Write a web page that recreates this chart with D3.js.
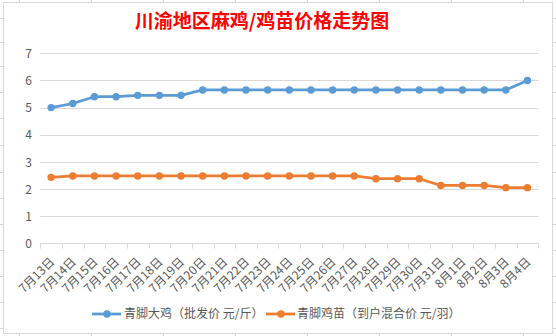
<!DOCTYPE html>
<html><head><meta charset="utf-8">
<script src="https://cdn.jsdelivr.net/npm/d3@7"></script>
<style>
html,body{margin:0;padding:0;background:#fff;}
svg{display:block;}
text{font-family:"Noto Sans CJK SC","Microsoft YaHei",sans-serif;}
</style></head>
<body>
<svg id="chart" width="556" height="336"></svg>
<script>
const title = "川渝地区麻鸡/鸡苗价格走势图";
const categories = ["7月13日","7月14日","7月15日","7月16日","7月17日","7月18日","7月19日","7月20日","7月21日","7月22日","7月23日","7月24日","7月25日","7月26日","7月27日","7月28日","7月29日","7月30日","7月31日","8月1日","8月2日","8月3日","8月4日"];
const seriesNames = ["青脚大鸡（批发价 元/斤）","青脚鸡苗（到户混合价 元/羽）"];
const broilerPrices = [5.0,5.15,5.4,5.4,5.45,5.45,5.45,5.65,5.65,5.65,5.65,5.65,5.65,5.65,5.65,5.65,5.65,5.65,5.65,5.65,5.65,5.65,6.0];
const chickPrices = [2.43,2.48,2.48,2.48,2.48,2.48,2.48,2.48,2.48,2.48,2.48,2.48,2.48,2.48,2.48,2.38,2.38,2.38,2.13,2.13,2.13,2.05,2.05];
const yTicks = [0,1,2,3,4,5,6,7];
const colors = ["#5B9BD5","#ED7D31"];

const svg = d3.select("#chart");

// spreadsheet cell lines peeking outside the chart border
const sheet = svg.append("g").attr("stroke","#D4D4D4").attr("stroke-width",1);
[19,91,163,235,307,379,451,523].forEach(x=>{
  sheet.append("line").attr("x1",x+0.5).attr("x2",x+0.5).attr("y1",0).attr("y2",2);
  sheet.append("line").attr("x1",x+0.5).attr("x2",x+0.5).attr("y1",334).attr("y2",336);
});
[18,42,66,92,118,145,172,198,224,250,276,302,328].forEach(y=>{
  sheet.append("line").attr("x1",0).attr("x2",3).attr("y1",y+0.5).attr("y2",y+0.5);
  sheet.append("line").attr("x1",553).attr("x2",556).attr("y1",y+0.5).attr("y2",y+0.5);
});

// chart border
svg.append("rect").attr("x",3.5).attr("y",2.5).attr("width",549).attr("height",331)
  .attr("fill","#fff").attr("stroke","#D9D9D9").attr("stroke-width",1);

// title
svg.append("text").attr("x",262).attr("y",28).attr("text-anchor","middle")
  .attr("font-size",19).attr("font-weight","bold").attr("fill","#FF0000").text(title);

const x = d3.scaleBand().domain(categories).range([40.3,538.3]);
const y = d3.scaleLinear().domain([0,7]).range([243.3,53.3]);

// gridlines
svg.append("g").selectAll("line").data(yTicks.filter(d=>d>0)).join("line")
  .attr("x1",40.3).attr("x2",538.3)
  .attr("y1",d=>Math.round(y(d))+0.5).attr("y2",d=>Math.round(y(d))+0.5)
  .attr("stroke","#D9D9D9").attr("stroke-width",1);

// y axis labels
const yAxis = d3.axisLeft(y).tickValues(yTicks).tickFormat(d3.format("d")).tickSize(0).tickPadding(0);
const yg = svg.append("g").attr("transform","translate(32,0)").call(yAxis);
yg.select(".domain").remove();
yg.selectAll("text").attr("font-size",12).attr("fill","#595959").attr("font-family","'Noto Sans CJK SC',sans-serif").attr("dy","0.35em");

// x axis
const xAxis = d3.axisBottom(x).tickSize(0).tickPadding(0);
const xg = svg.append("g").attr("transform","translate(0,"+(Math.round(y(0))+0.5)+")").call(xAxis);
xg.select(".domain").attr("stroke","#D9D9D9").attr("d","M40.3,0H538.3");
xg.selectAll(".tick line").remove();
// tick marks at band boundaries
const bounds = categories.map(c=>x(c)).concat([x.range()[1]]);
xg.selectAll(".bound").data(bounds).join("line").attr("class","bound")
  .attr("x1",d=>Math.round(d)+0.5).attr("x2",d=>Math.round(d)+0.5).attr("y1",0).attr("y2",5)
  .attr("stroke","#D9D9D9");
xg.selectAll(".tick text")
  .attr("font-size",12).attr("fill","#595959").attr("font-family","'Noto Sans CJK SC',sans-serif")
  .attr("text-anchor","end").attr("dy",0)
  .attr("transform","translate(4,19) rotate(-45)");

// lines
const line = d3.line().x((d,i)=>x(categories[i])+x.bandwidth()/2).y(d=>y(d));
[broilerPrices, chickPrices].forEach((vals,k)=>{
  svg.append("path").datum(vals).attr("d",line).attr("fill","none")
    .attr("stroke",colors[k]).attr("stroke-width",2.75).attr("stroke-linejoin","round");
  svg.append("g").selectAll("circle").data(vals).join("circle")
    .attr("cx",(d,i)=>x(categories[i])+x.bandwidth()/2).attr("cy",d=>y(d)).attr("r",3.7)
    .attr("fill",colors[k]);
});

// legend
const legendItems = [{x:92,tx:124},{x:266,tx:297}];
legendItems.forEach((it,k)=>{
  const g = svg.append("g");
  g.append("line").attr("x1",it.x).attr("x2",it.x+29).attr("y1",314).attr("y2",314)
    .attr("stroke",colors[k]).attr("stroke-width",2.75);
  g.append("circle").attr("cx",it.x+15).attr("cy",314).attr("r",3.7).attr("fill",colors[k]);
  g.append("text").attr("x",it.tx).attr("y",314).attr("dy","0.35em")
    .attr("font-size",12).attr("fill","#595959").text(seriesNames[k]);
});
</script>
</body></html>
